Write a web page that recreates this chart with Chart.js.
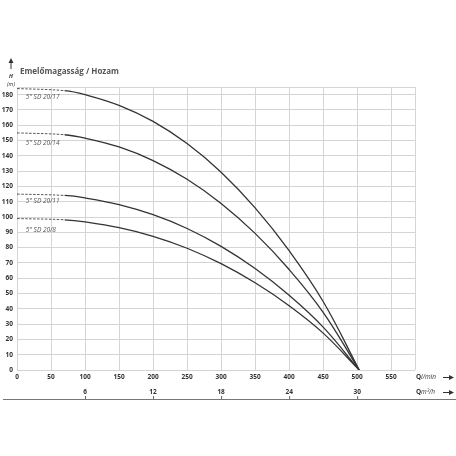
<!DOCTYPE html>
<html>
<head>
<meta charset="utf-8">
<script src="https://cdn.jsdelivr.net/npm/chart.js@4"></script>
<style>
  html, body { margin: 0; padding: 0; background: #fff; }
</style>
</head>
<body>
<canvas id="myChart" width="456" height="456"></canvas>
<script>
// flow points (l/min) and head values (m)
const flow = [0, 70, 100, 150, 200, 250, 300, 350, 400, 450, 503];
const sd2017 = [184, 182.6, 180, 173, 162.5, 148, 129.3, 106, 78, 44.8, 0];
const sd2014 = [155, 153.8, 151.6, 145.8, 136.9, 124.7, 108.9, 89.3, 65.7, 37.7, 0];
const sd2011 = [115, 114.1, 112.5, 108.1, 101.5, 92.5, 80.8, 66.3, 48.8, 28, 0];
const sd208 = [99, 98.2, 96.8, 93, 87.4, 79.6, 69.5, 57, 42, 24.1, 0];
const seriesNames = ['5" SD 20/17', '5" SD 20/14', '5" SD 20/11', '5" SD 20/8'];

// secondary axis: m3/h ticks and where they sit in l/min
const m3hTicks = [6, 12, 18, 24, 30];
const m3hAtLmin = [100, 200, 300, 400, 500];

const dashedUntil = 70;
const FONT = '"Open Sans", "DejaVu Sans", sans-serif';

const toPoints = (arr) => flow.map((q, i) => ({x: q, y: arr[i]}));

const extras = {
    id: 'extras',
    afterDraw(chart) {
        const c = chart.ctx;
        const xs = chart.scales.x;
        const ys = chart.scales.y;
        c.save();
        c.fillStyle = '#555';
        c.textBaseline = 'middle';

        // title
        c.textAlign = 'left';
        c.font = 'bold 8px ' + FONT;
        c.fillText('Emelőmagasság / Hozam', 20, 72);

        // y arrow + unit
        c.strokeStyle = '#333';
        c.lineWidth = 1;
        c.beginPath();
        c.moveTo(11, 69);
        c.lineTo(11, 62);
        c.stroke();
        c.fillStyle = '#333';
        c.beginPath();
        c.moveTo(11, 58);
        c.lineTo(8.5, 63);
        c.lineTo(13.5, 63);
        c.closePath();
        c.fill();
        c.textAlign = 'center';
        c.font = 'italic bold 5.5px ' + FONT;
        c.fillText('H', 11, 76);
        c.font = 'italic 5.5px ' + FONT;
        c.fillText('(m)', 11, 84);

        // series labels below the dashed start
        const offs = [9, 10, 7, 12];
        const starts = [sd2017[0], sd2014[0], sd2011[0], sd208[0]];
        c.fillStyle = '#555';
        c.textAlign = 'left';
        c.font = 'italic 6.5px ' + FONT;
        seriesNames.forEach((n, i) => {
            c.fillText(n, xs.getPixelForValue(13), ys.getPixelForValue(starts[i]) + offs[i]);
        });

        // secondary m3/h axis
        const yLab = 392;
        const yBase = 399;
        c.fillStyle = '#333';
        c.textAlign = 'center';
        c.font = 'bold 6.5px ' + FONT;
        c.strokeStyle = '#666';
        m3hTicks.forEach((t, i) => {
            const px = xs.getPixelForValue(m3hAtLmin[i]);
            c.fillText(String(t), px, yLab);
            c.beginPath();
            c.moveTo(px + 0.5, yBase - 3);
            c.lineTo(px + 0.5, yBase);
            c.stroke();
        });
        c.strokeStyle = '#777';
        c.beginPath();
        c.moveTo(3, yBase + 0.5);
        c.lineTo(456, yBase + 0.5);
        c.stroke();

        // axis names
        const drawQ = (unit, y) => {
            c.textAlign = 'left';
            c.fillStyle = '#333';
            c.font = 'bold 6.5px ' + FONT;
            c.fillText('Q', 416, y);
            c.font = 'italic 6.5px ' + FONT;
            c.fillText(unit, 421, y);
            c.strokeStyle = '#333';
            c.beginPath();
            c.moveTo(443, y + 0.5);
            c.lineTo(450, y + 0.5);
            c.stroke();
            c.beginPath();
            c.moveTo(454, y + 0.5);
            c.lineTo(449, y - 2);
            c.lineTo(449, y + 3);
            c.closePath();
            c.fill();
        };
        drawQ('l/min', 377);
        drawQ('m³/h', 392);
        c.restore();
    }
};

const ds = (arr) => ({
    data: toPoints(arr),
    borderColor: '#333',
    borderWidth: 1.3,
    pointRadius: 0,
    tension: 0.4,
    segment: {
        borderDash: (s) => s.p1.parsed.x <= dashedUntil ? [2.5, 1.5] : undefined,
        borderColor: (s) => s.p1.parsed.x <= dashedUntil ? '#555' : undefined,
        borderWidth: (s) => s.p1.parsed.x <= dashedUntil ? 1 : undefined
    }
});

new Chart(document.getElementById('myChart'), {
    type: 'line',
    data: {
        datasets: [ds(sd2017), ds(sd2014), ds(sd2011), ds(sd208)]
    },
    options: {
        responsive: false,
        animation: false,
        devicePixelRatio: 1,
        layout: {padding: {left: 0, right: 41, top: 87, bottom: 72}},
        plugins: {legend: {display: false}, tooltip: {enabled: false}},
        scales: {
            x: {
                type: 'linear',
                min: 0,
                max: 585,
                border: {display: false},
                grid: {color: '#d4d4d4', lineWidth: 1, tickLength: 0, borderDash: [1, 1.5]},
                ticks: {
                    stepSize: 50,
                    padding: 3,
                    color: '#333',
                    font: {family: FONT, size: 6.5, weight: 'bold'},
                    maxRotation: 0,
                    callback: (v) => v % 50 === 0 ? v : ''
                },
                afterFit: (s) => { s.height = 14; }
            },
            y: {
                min: 0,
                max: 185,
                border: {display: false},
                grid: {color: '#d4d4d4', lineWidth: 1, tickLength: 0, borderDash: [1, 1.5]},
                ticks: {
                    stepSize: 10,
                    padding: 4,
                    color: '#333',
                    font: {family: FONT, size: 6.5, weight: 'bold'},
                    callback: (v) => v % 10 === 0 ? v : ''
                },
                afterFit: (s) => { s.width = 17; }
            }
        }
    },
    plugins: [extras]
});
</script>
</body>
</html>
